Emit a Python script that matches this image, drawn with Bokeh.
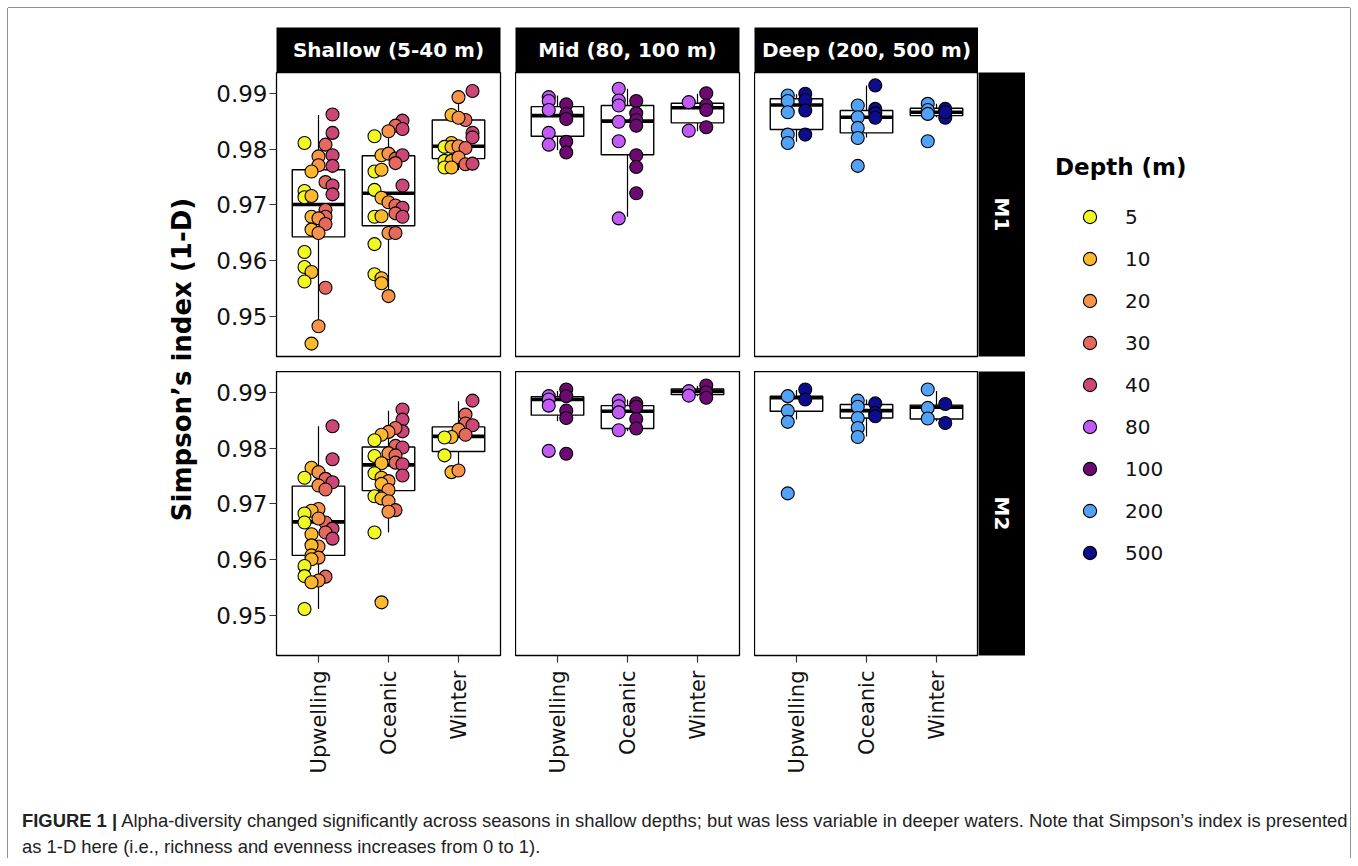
from math import pi
from bokeh.plotting import figure
from bokeh.models import (ColumnDataSource, Range1d, FixedTicker, Label, Legend,
                          LegendItem, Div, Spacer, Column, Row)
from bokeh.embed import file_html
from bokeh.resources import INLINE

# ---------------- data ----------------
SEASONS = ["Upwelling", "Oceanic", "Winter"]
ZONES = ["Shallow (5-40 m)", "Mid (80, 100 m)", "Deep (200, 500 m)"]
SITES = ["M1", "M2"]
DEPTHS = [5, 10, 20, 30, 40, 80, 100, 200, 500]
DEPTH_COLORS = ["#F0F921", "#FDB92E", "#F8934A", "#E5695C", "#CC4778",
                "#C25BF5", "#6C0A72", "#52A3F7", "#0D0C8C"]
ZONE_DEPTHS = [[5, 10, 20, 30, 40], [80, 100], [200, 500]]
Y_TICKS = [0.95, 0.96, 0.97, 0.98, 0.99]

# points: (season, depth, Simpson's index)
shallow_m1 = [
    ("Upwelling", 40, .9862), ("Upwelling", 40, .9829), ("Upwelling", 30, .9808), ("Upwelling", 5, .9811),
    ("Upwelling", 40, .9789), ("Upwelling", 20, .9787), ("Upwelling", 20, .9771), ("Upwelling", 40, .9770),
    ("Upwelling", 10, .9760), ("Upwelling", 30, .9741), ("Upwelling", 40, .9735), ("Upwelling", 40, .9719),
    ("Upwelling", 5, .9725), ("Upwelling", 5, .9714), ("Upwelling", 10, .9716), ("Upwelling", 30, .9691),
    ("Upwelling", 30, .9679), ("Upwelling", 10, .9679), ("Upwelling", 20, .9676), ("Upwelling", 30, .9666),
    ("Upwelling", 10, .9656), ("Upwelling", 20, .9650), ("Upwelling", 5, .9616), ("Upwelling", 5, .9589),
    ("Upwelling", 10, .9580), ("Upwelling", 5, .9563), ("Upwelling", 30, .9552), ("Upwelling", 20, .9483),
    ("Upwelling", 10, .9452),
    ("Oceanic", 40, .9851), ("Oceanic", 30, .9842), ("Oceanic", 40, .9836), ("Oceanic", 20, .9832),
    ("Oceanic", 5, .9823), ("Oceanic", 10, .9789), ("Oceanic", 20, .9792), ("Oceanic", 30, .9783),
    ("Oceanic", 40, .9789), ("Oceanic", 30, .9775), ("Oceanic", 5, .9760), ("Oceanic", 10, .9763),
    ("Oceanic", 40, .9735), ("Oceanic", 5, .9727), ("Oceanic", 10, .9713), ("Oceanic", 20, .9705),
    ("Oceanic", 30, .9699), ("Oceanic", 40, .9695), ("Oceanic", 30, .9685), ("Oceanic", 40, .9679),
    ("Oceanic", 5, .9679), ("Oceanic", 10, .9680), ("Oceanic", 20, .9650), ("Oceanic", 30, .9650),
    ("Oceanic", 5, .9630), ("Oceanic", 5, .9576), ("Oceanic", 10, .9569), ("Oceanic", 10, .9560),
    ("Oceanic", 20, .9537),
    ("Winter", 40, .9904), ("Winter", 20, .9893), ("Winter", 10, .9861), ("Winter", 30, .9852),
    ("Winter", 20, .9856), ("Winter", 40, .9829), ("Winter", 40, .9821), ("Winter", 10, .9811),
    ("Winter", 5, .9804), ("Winter", 10, .9804), ("Winter", 20, .9805), ("Winter", 30, .9802),
    ("Winter", 5, .9779), ("Winter", 10, .9779), ("Winter", 20, .9785), ("Winter", 30, .9773),
    ("Winter", 40, .9774), ("Winter", 5, .9767), ("Winter", 10, .9767),
]
shallow_m2 = [
    ("Upwelling", 40, .9839), ("Upwelling", 40, .9780), ("Upwelling", 10, .9765), ("Upwelling", 20, .9757),
    ("Upwelling", 5, .9747), ("Upwelling", 30, .9745), ("Upwelling", 40, .9739), ("Upwelling", 20, .9733),
    ("Upwelling", 30, .9726), ("Upwelling", 20, .9691), ("Upwelling", 10, .9688), ("Upwelling", 5, .9683),
    ("Upwelling", 5, .9667), ("Upwelling", 30, .9667), ("Upwelling", 20, .9674), ("Upwelling", 40, .9656),
    ("Upwelling", 30, .9649), ("Upwelling", 40, .9638), ("Upwelling", 10, .9646), ("Upwelling", 20, .9624),
    ("Upwelling", 10, .9626), ("Upwelling", 10, .9608), ("Upwelling", 20, .9604), ("Upwelling", 10, .9601),
    ("Upwelling", 5, .9589), ("Upwelling", 5, .9571), ("Upwelling", 30, .9570), ("Upwelling", 20, .9563),
    ("Upwelling", 10, .9560), ("Upwelling", 5, .9512),
    ("Oceanic", 40, .9869), ("Oceanic", 40, .9851), ("Oceanic", 40, .9830), ("Oceanic", 30, .9836),
    ("Oceanic", 20, .9829), ("Oceanic", 10, .9824), ("Oceanic", 5, .9814), ("Oceanic", 30, .9804),
    ("Oceanic", 40, .9801), ("Oceanic", 20, .9791), ("Oceanic", 5, .9786), ("Oceanic", 30, .9787),
    ("Oceanic", 10, .9773), ("Oceanic", 30, .9774), ("Oceanic", 40, .9771), ("Oceanic", 5, .9755),
    ("Oceanic", 40, .9751), ("Oceanic", 10, .9747), ("Oceanic", 20, .9741), ("Oceanic", 10, .9736),
    ("Oceanic", 20, .9725), ("Oceanic", 5, .9714), ("Oceanic", 10, .9710), ("Oceanic", 20, .9705),
    ("Oceanic", 30, .9689), ("Oceanic", 20, .9686), ("Oceanic", 5, .9649), ("Oceanic", 10, .9524),
    ("Winter", 40, .9885), ("Winter", 30, .9860), ("Winter", 30, .9844), ("Winter", 20, .9833),
    ("Winter", 40, .9841), ("Winter", 30, .9824), ("Winter", 10, .9820), ("Winter", 5, .9819),
    ("Winter", 5, .9787), ("Winter", 10, .9757), ("Winter", 20, .9760),
]
mid_m1 = [
    ("Upwelling", 80, .9893), ("Upwelling", 80, .9886), ("Upwelling", 80, .9870), ("Upwelling", 100, .9880),
    ("Upwelling", 100, .9863), ("Upwelling", 100, .9854), ("Upwelling", 80, .9829), ("Upwelling", 80, .9808),
    ("Upwelling", 100, .9813), ("Upwelling", 100, .9794),
    ("Oceanic", 80, .9908), ("Oceanic", 80, .9887), ("Oceanic", 80, .9878), ("Oceanic", 100, .9886),
    ("Oceanic", 100, .9864), ("Oceanic", 100, .9852), ("Oceanic", 100, .9842), ("Oceanic", 80, .9849),
    ("Oceanic", 80, .9814), ("Oceanic", 100, .9789), ("Oceanic", 100, .9768), ("Oceanic", 100, .9721),
    ("Oceanic", 80, .9676),
    ("Winter", 100, .9900), ("Winter", 80, .9884), ("Winter", 100, .9878), ("Winter", 100, .9870),
    ("Winter", 80, .9833), ("Winter", 100, .9839),
]
mid_m2 = [
    ("Upwelling", 80, .9893), ("Upwelling", 80, .9887), ("Upwelling", 80, .9876), ("Upwelling", 100, .9905),
    ("Upwelling", 100, .9893), ("Upwelling", 100, .9867), ("Upwelling", 100, .9854), ("Upwelling", 80, .9795),
    ("Upwelling", 100, .9790),
    ("Oceanic", 80, .9885), ("Oceanic", 80, .9875), ("Oceanic", 80, .9864), ("Oceanic", 80, .9832),
    ("Oceanic", 100, .9880), ("Oceanic", 100, .9874), ("Oceanic", 100, .9852), ("Oceanic", 100, .9835),
    ("Winter", 80, .9902), ("Winter", 80, .9894), ("Winter", 100, .9912), ("Winter", 100, .9900),
    ("Winter", 100, .9890),
]
deep_m1 = [
    ("Upwelling", 200, .9896), ("Upwelling", 200, .9886), ("Upwelling", 200, .9866), ("Upwelling", 500, .9899),
    ("Upwelling", 500, .9888), ("Upwelling", 500, .9869), ("Upwelling", 500, .9826), ("Upwelling", 200, .9826),
    ("Upwelling", 200, .9811),
    ("Oceanic", 500, .9914), ("Oceanic", 200, .9878), ("Oceanic", 200, .9857), ("Oceanic", 200, .9838),
    ("Oceanic", 200, .9820), ("Oceanic", 500, .9872), ("Oceanic", 500, .9864), ("Oceanic", 500, .9856),
    ("Oceanic", 200, .9770),
    ("Winter", 200, .9881), ("Winter", 200, .9870), ("Winter", 200, .9863), ("Winter", 500, .9872),
    ("Winter", 500, .9856), ("Winter", 500, .9866), ("Winter", 200, .9814),
]
deep_m2 = [
    ("Upwelling", 200, .9893), ("Upwelling", 200, .9867), ("Upwelling", 200, .9847), ("Upwelling", 500, .9905),
    ("Upwelling", 500, .9887), ("Upwelling", 200, .9719),
    ("Oceanic", 200, .9885), ("Oceanic", 200, .9874), ("Oceanic", 200, .9854), ("Oceanic", 200, .9836),
    ("Oceanic", 200, .9820), ("Oceanic", 500, .9880), ("Oceanic", 500, .9863), ("Oceanic", 500, .9857),
    ("Winter", 200, .9905), ("Winter", 200, .9872), ("Winter", 200, .9853), ("Winter", 500, .9879),
    ("Winter", 500, .9845),
]

# box statistics: (season, lower whisker, q1, median, q3, upper whisker)
box_shallow_m1 = [("Upwelling", .9485, .9643, .9701, .9763, .9861),
                  ("Oceanic", .9548, .9663, .9721, .9788, .9842),
                  ("Winter", .9762, .9783, .9805, .9852, .9893)]
box_shallow_m2 = [("Upwelling", .9512, .9608, .9668, .9732, .9839),
                  ("Oceanic", .9649, .9724, .9770, .9802, .9867),
                  ("Winter", .9768, .9794, .9821, .9838, .9884)]
box_mid_m1 = [("Upwelling", .9798, .9823, .9860, .9876, .9896),
              ("Oceanic", .9679, .9790, .9850, .9878, .9908),
              ("Winter", .9832, .9847, .9874, .9882, .9899)]
box_mid_m2 = [("Upwelling", .9848, .9859, .9887, .9892, .9902),
              ("Oceanic", .9830, .9835, .9866, .9876, .9887),
              ("Winter", .9893, .9896, .9902, .9906, .9911)]
box_deep_m1 = [("Upwelling", .9813, .9835, .9879, .9890, .9898),
               ("Oceanic", .9821, .9829, .9857, .9869, .9914),
               ("Winter", .9857, .9860, .9866, .9873, .9881)]
box_deep_m2 = [("Upwelling", .9851, .9866, .9890, .9893, .9904),
               ("Oceanic", .9821, .9854, .9867, .9878, .9887),
               ("Winter", .9848, .9852, .9873, .9877, .9902)]

PANEL_POINTS = [[shallow_m1, mid_m1, deep_m1], [shallow_m2, mid_m2, deep_m2]]
PANEL_BOXES = [[box_shallow_m1, box_mid_m1, box_deep_m1], [box_shallow_m2, box_mid_m2, box_deep_m2]]

CAPTION_BOLD = "FIGURE 1 |"
CAPTION_L1 = ("Alpha-diversity changed significantly across seasons in shallow depths; but was less "
              "variable in deeper waters. Note that Simpson\u2019s index is presented")
CAPTION_L2 = "as 1-D here (i.e., richness and evenness increases from 0 to 1)."

# ---------------- style / layout ----------------
FONT = "DejaVu Sans"
W_LEFT, W_COL1, W_COL2, W_COL3, W_STRIP, W_LEG = 192, 315, 239, 224, 47, 325
AXIS_LEFT, GAP, AXIS_BOTTOM = 76, 15, 145
STRIP_TOP, STRIP_H = 19, 45
FRAME_H = 284
H_STRIPFIG = STRIP_TOP + STRIP_H
H_ROW1 = FRAME_H + GAP
H_ROW2 = FRAME_H + AXIS_BOTTOM
H_MAIN = H_STRIPFIG + H_ROW1 + H_ROW2
BOX_W = 0.75
DODGE_W = 0.5

all_vals = [v for r in PANEL_POINTS for pts in r for (_, _, v) in pts]
lo, hi = min(all_vals), max(all_vals)
pad = 0.05 * (hi - lo)
Y_LO, Y_HI = lo - pad, hi + pad
color_of = dict(zip(DEPTHS, DEPTH_COLORS))


def bare(width, height, **kw):
    p = figure(width=width, height=height, toolbar_location=None, output_backend="svg",
               x_axis_location=None, y_axis_location=None,
               x_range=Range1d(0, 1), y_range=Range1d(0, 1), **kw)
    p.outline_line_color = None
    p.xgrid.grid_line_color = None
    p.ygrid.grid_line_color = None
    p.border_fill_color = "white"
    return p


def panel(ri, ci):
    pts = PANEL_POINTS[ri][ci]
    boxes = PANEL_BOXES[ri][ci]
    depths = ZONE_DEPTHS[ci]
    n = len(depths)
    width = [W_COL1, W_COL2, W_COL3][ci]
    height = H_ROW2 if ri == 1 else H_ROW1
    p = figure(width=width, height=height, toolbar_location=None, output_backend="svg",
               x_range=Range1d(0.4, 3.6), y_range=Range1d(Y_LO, Y_HI),
               x_axis_location="below" if ri == 1 else None,
               y_axis_location="left" if ci == 0 else None,
               min_border_left=AXIS_LEFT if ci == 0 else 0,
               min_border_right=GAP if ci < 2 else 0,
               min_border_top=0,
               min_border_bottom=AXIS_BOTTOM if ri == 1 else GAP)
    p.xgrid.grid_line_color = None
    p.ygrid.grid_line_color = None
    p.outline_line_color = "black"
    p.outline_line_width = 1.3
    p.background_fill_color = "white"
    p.border_fill_color = "white"

    bx = [SEASONS.index(b[0]) + 1 for b in boxes]
    bsrc = ColumnDataSource(dict(
        x=bx, lower=[b[1] for b in boxes], q1=[b[2] for b in boxes], med=[b[3] for b in boxes],
        q3=[b[4] for b in boxes], upper=[b[5] for b in boxes],
        x0=[x - BOX_W / 2 for x in bx], x1=[x + BOX_W / 2 for x in bx]))
    p.segment(x0="x", y0="q3", x1="x", y1="upper", source=bsrc, line_color="black", line_width=1.2)
    p.segment(x0="x", y0="lower", x1="x", y1="q1", source=bsrc, line_color="black", line_width=1.2)
    p.vbar(x="x", width=BOX_W, bottom="q1", top="q3", source=bsrc,
           fill_color="white", line_color="black", line_width=1.4)
    p.segment(x0="x0", y0="med", x1="x1", y1="med", source=bsrc, line_color="black", line_width=3.6)

    xs = [SEASONS.index(s) + 1 + (depths.index(d) - (n - 1) / 2) * DODGE_W / n for (s, d, _) in pts]
    psrc = ColumnDataSource(dict(x=xs, y=[v for (_, _, v) in pts],
                                 color=[color_of[d] for (_, d, _) in pts]))
    p.scatter(x="x", y="y", source=psrc, size=13, fill_color="color",
              line_color="black", line_width=1.1)

    for ax in p.yaxis:
        ax.ticker = FixedTicker(ticks=Y_TICKS)
        ax.axis_line_color = None
        ax.major_tick_out = 7
        ax.major_tick_in = 0
        ax.minor_tick_line_color = None
        ax.major_tick_line_color = "#333333"
        ax.major_tick_line_width = 1.2
        ax.major_label_standoff = 2
        ax.major_label_text_font = FONT
        ax.major_label_text_font_size = "23px"
        ax.major_label_text_color = "#111111"
    for ax in p.xaxis:
        ax.ticker = FixedTicker(ticks=[1, 2, 3])
        ax.major_label_overrides = {i + 1: s for i, s in enumerate(SEASONS)}
        ax.axis_line_color = None
        ax.major_tick_out = 7
        ax.major_tick_in = 0
        ax.minor_tick_line_color = None
        ax.major_tick_line_color = "#333333"
        ax.major_tick_line_width = 1.2
        ax.major_label_standoff = 8
        ax.major_label_orientation = pi / 2
        ax.major_label_text_font = FONT
        ax.major_label_text_font_size = "21px"
        ax.major_label_text_color = "#111111"
    return p


def top_strip(ci):
    width = [W_COL1, W_COL2, W_COL3][ci]
    p = bare(width, H_STRIPFIG,
             min_border_left=AXIS_LEFT if ci == 0 else 0,
             min_border_right=GAP if ci < 2 else 0,
             min_border_top=STRIP_TOP, min_border_bottom=0)
    p.background_fill_color = "black"
    p.add_layout(Label(x=0.5, y=0.5, text=ZONES[ci], text_align="center", text_baseline="middle",
                       text_color="white", text_font=FONT, text_font_style="bold",
                       text_font_size="20px"))
    return p


def side_strip(ri):
    p = bare(W_STRIP, H_ROW2 if ri == 1 else H_ROW1, min_border_left=0, min_border_right=0,
             min_border_top=0, min_border_bottom=AXIS_BOTTOM if ri == 1 else GAP)
    p.background_fill_color = "black"
    p.add_layout(Label(x=0.5, y=0.5, text=SITES[ri], angle=-pi / 2, text_align="center",
                       text_baseline="middle", text_color="white", text_font=FONT,
                       text_font_style="bold", text_font_size="20px"))
    return p


# y-axis title
ytitle = bare(W_LEFT, H_MAIN, min_border=0)
ytitle.add_layout(Label(x=173, y=H_MAIN - 351, x_units="screen", y_units="screen",
                        text="Simpson\u2019s index (1-D)", angle=pi / 2, text_align="center",
                        text_baseline="middle", text_font=FONT, text_font_style="bold",
                        text_font_size="26px", text_color="black"))

# legend (each key glyph is a renderer with one unplotted NaN point)
leg = bare(W_LEG, H_MAIN, min_border_left=30, min_border_top=146, min_border_right=0, min_border_bottom=0)
items = []
for d, c in zip(DEPTHS, DEPTH_COLORS):
    r = leg.scatter(x=[float("nan")], y=[float("nan")], size=13, fill_color=c,
                    line_color="black", line_width=1.1)
    items.append(LegendItem(label=str(d), renderers=[r]))
legend = Legend(items=items, location="top_left", margin=0, padding=0,
                border_line_color=None, background_fill_alpha=0,
                title="Depth (m)", title_text_font=FONT, title_text_font_style="bold",
                title_text_font_size="23px", title_text_color="black", title_standoff=20,
                label_text_font=FONT, label_text_font_size="20px", label_text_color="#111111",
                glyph_width=69, glyph_height=33, label_height=33, spacing=9, label_standoff=1)
leg.add_layout(legend)

cols = []
for ci in range(3):
    cols.append(Column(children=[top_strip(ci), panel(0, ci), panel(1, ci)], spacing=0))
side = Column(children=[Spacer(width=W_STRIP, height=H_STRIPFIG), side_strip(0), side_strip(1)], spacing=0)
main = Row(children=[ytitle] + cols + [side, leg], spacing=0)

caption_html = (
    '<div style="font-family:\'Liberation Sans\',Arial,sans-serif;font-size:18.4px;line-height:26px;'
    'padding-left:14px;padding-top:8px;white-space:nowrap;color:#222222;">'
    '<b>%s</b> %s<br>%s</div>' % (CAPTION_BOLD, CAPTION_L1, CAPTION_L2))
caption = Div(text=caption_html, width=W_LEFT + W_COL1 + W_COL2 + W_COL3 + W_STRIP + W_LEG,
              height=850 - H_MAIN, margin=0)

root = Column(children=[main, caption], spacing=0, margin=(8, 0, 0, 8),
              styles={"box-shadow": "-1px 0 0 0 #909090, 1px 0 0 0 #909090, 0 -1px 0 0 #909090"})

open("out.html", "w").write(file_html(root, INLINE, title="Figure 1"))
